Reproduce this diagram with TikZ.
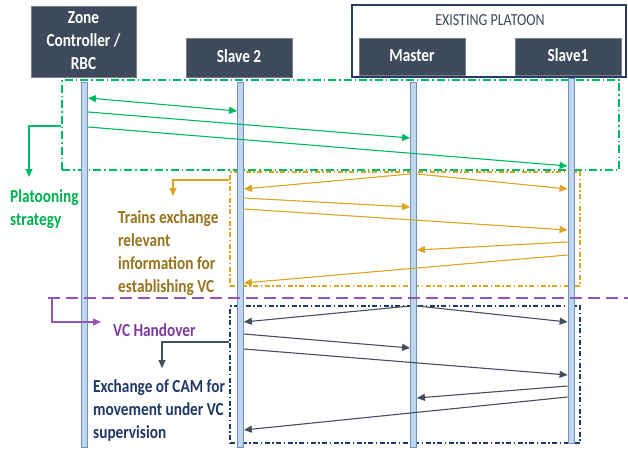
\documentclass[tikz,border=0pt]{standalone}
\usepackage{fontspec}
\setmainfont{Carlito}
\usepackage{graphicx}
\usetikzlibrary{arrows.meta}
\definecolor{hdrc}{RGB}{62,74,91}
\definecolor{epc}{RGB}{40,60,95}
\definecolor{lifef}{RGB}{190,214,238}
\definecolor{lifed}{RGB}{110,145,190}
\definecolor{grn}{RGB}{0,184,100}
\definecolor{grntxt}{RGB}{0,176,80}
\definecolor{org}{RGB}{218,165,32}
\definecolor{orgtxt}{RGB}{150,115,28}
\definecolor{pur}{RGB}{150,85,180}
\definecolor{purtxt}{RGB}{125,60,155}
\definecolor{nav}{RGB}{31,56,110}
\definecolor{navtxt}{RGB}{31,56,100}
\definecolor{navarr}{RGB}{68,78,92}
\newcommand{\vtxt}[2]{\scalebox{1}[1.2]{\begin{tabular}[t]{@{}#1@{}}#2\end{tabular}}}
\begin{document}
\begin{tikzpicture}[x=1pt,y=-1pt,
  every node/.style={font=\fontsize{15.3}{19.2}\selectfont\bfseries, inner sep=0pt},
  hdr/.style={rectangle, fill=hdrc, draw=hdrc!70!white, line width=0.6pt, text=white},
  life/.style={rectangle, draw=lifed, fill=lifef, line width=0.8pt, minimum width=6pt, minimum height=365pt},
  tip/.style={-{Triangle[length=8pt,width=7pt]}},
  ga/.style={draw=grn, line width=1.1pt, tip},
  oa/.style={draw=org, line width=1.1pt, tip},
  na/.style={draw=navarr, line width=1.1pt, tip},
  pa/.style={draw=pur, line width=1.1pt, tip},
  gboxst/.style={rectangle, draw=grn, line width=1.1pt, dash pattern=on 8pt off 3pt on 1.5pt off 3pt},
  oboxst/.style={rectangle, draw=org, line width=1.1pt, dash pattern=on 5pt off 2.5pt on 1.5pt off 2.5pt},
  nboxst/.style={rectangle, draw=nav, line width=1.1pt, dash pattern=on 5pt off 2.5pt on 1.5pt off 2.5pt},
  pdash/.style={draw=pur, line width=2.8pt, dash pattern=on 12pt off 6pt}]
\useasboundingbox (0,0) rectangle (628,449);
% header
\node[draw=epc, line width=2pt, minimum width=274pt, minimum height=72pt] (ep) at (489,41) {};
\node[font=\fontsize{14}{17}\selectfont, text=hdrc] (eptxt) at (490,20) {\scalebox{1}[1.2]{EXISTING PLATOON}};
\node[hdr, minimum width=105pt, minimum height=71pt] (zc) at (83.5,41.5) {\vtxt{c}{Zone\\Controller /\\RBC}};
\node[hdr, minimum width=106pt, minimum height=39pt] (s2) at (239,57.5) {\vtxt{c}{Slave 2}};
\node[hdr, minimum width=106pt, minimum height=37pt] (m) at (412,56.5) {\vtxt{c}{Master}};
\node[hdr, minimum width=106pt, minimum height=37pt] (s1) at (568,56.5) {\vtxt{c}{Slave1}};
% dashed boxes
\node[gboxst, minimum width=557pt, minimum height=90pt] (gbox) at (340.5,125) {};
\node[oboxst, minimum width=350pt, minimum height=114pt] (obox) at (405,229) {};
\node[nboxst, minimum width=350pt, minimum height=137pt] (nbox) at (405,374.5) {};
% lifelines
\node[life] (zcL) at (84.5,264.5) {};
\node[life] (s2L) at (240.5,264.5) {};
\node[life] (mL) at (413.5,264.5) {};
\node[life] (s1L) at (571,260.5) {};
% purple separator
\coordinate (pl) at (48,298);
\coordinate (pr) at (628,298);
\draw[pdash] (pl) -- (pr);
% green arrows
\draw[ga, {Triangle[length=8pt,width=7pt]}-{Triangle[length=8pt,width=7pt]}] (zcL.east |- 0,98) -- (s2L.west |- 0,111);
\draw[ga] (zcL.east |- 0,112) -- (mL.west |- 0,138);
\draw[ga] (zcL.east |- 0,127) -- (s1L.west |- 0,166);
% orange arrows
\draw[oa] (mL.west |- 0,174) -- (s2L.east |- 0,189);
\draw[oa] (mL.east |- 0,174) -- (s1L.west |- 0,189);
\draw[oa] (s2L.east |- 0,198) -- (mL.west |- 0,207);
\draw[oa] (s2L.east |- 0,209) -- (s1L.west |- 0,230);
\draw[oa] (s1L.west |- 0,242) -- (mL.east |- 0,250);
\draw[oa] (s1L.west |- 0,255) -- (s2L.east |- 0,283);
% navy arrows
\draw[na] (mL.west |- 0,306) -- (s2L.east |- 0,322);
\draw[na] (mL.east |- 0,306) -- (s1L.west |- 0,322);
\draw[na] (s2L.east |- 0,334) -- (mL.west |- 0,348);
\draw[na] (s2L.east |- 0,349) -- (s1L.west |- 0,375);
\draw[na] (s1L.west |- 0,386) -- (mL.east |- 0,398);
\draw[na] (s1L.west |- 0,397) -- (s2L.east |- 0,430);
% elbow arrows to labels
\coordinate (gend) at (29,177);
\draw[ga] (gbox.west |- 0,126) -| (gend);
\coordinate (oend) at (173,196);
\draw[oa] (obox.west |- 0,180) -| (oend);
\coordinate (pstart) at (52,298);
\coordinate (pend) at (101,322);
\draw[pa] (pstart) |- (pend);
\coordinate (nend) at (162,368);
\draw[na] (nbox.west |- 0,342) -| (nend);
% labels
\node[text=grntxt, anchor=base west] (plat) at (10,202) {\vtxt{l}{Platooning\\strategy}};
\node[text=orgtxt, anchor=base west] (train) at (118,223) {\vtxt{l}{Trains exchange\\relevant\\information for\\establishing VC}};
\node[text=purtxt, anchor=base west] (vch) at (113,336) {\vtxt{l}{VC Handover}};
\node[text=navtxt, anchor=base west] (cam) at (93,392) {\vtxt{l}{Exchange of CAM for\\movement under VC\\supervision}};
\end{tikzpicture}
\end{document}
